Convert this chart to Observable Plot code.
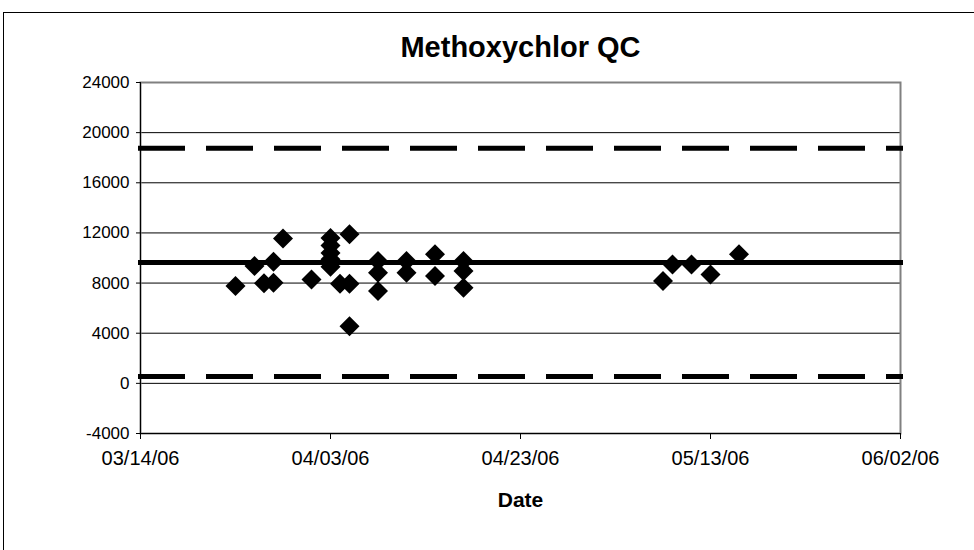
<!DOCTYPE html>
<html>
<head>
<meta charset="utf-8">
<script src="https://cdn.jsdelivr.net/npm/d3@7"></script>
<script src="https://cdn.jsdelivr.net/npm/@observablehq/plot@0.6"></script>
<style>
  html, body { margin: 0; padding: 0; background: #fff; }
  #wrap { position: relative; width: 974px; height: 550px; overflow: hidden; }
  #border { position: absolute; left: 3px; top: 12px; width: 1200px; height: 800px; border: 1px solid #000; box-sizing: border-box; }
  #chart { position: absolute; left: 0; top: 0; }
</style>
</head>
<body>
<div id="wrap"><div id="border"></div><div id="chart"></div></div>
<script>
// ---- data ----
const dates = ["2006-03-24","2006-03-26","2006-03-27","2006-03-28","2006-03-28","2006-03-29",
  "2006-04-01","2006-04-03","2006-04-03","2006-04-03","2006-04-03","2006-04-03","2006-04-04",
  "2006-04-05","2006-04-05","2006-04-05",
  "2006-04-08","2006-04-08","2006-04-08",
  "2006-04-11","2006-04-11",
  "2006-04-14","2006-04-14",
  "2006-04-17","2006-04-17","2006-04-17",
  "2006-05-08","2006-05-09","2006-05-11","2006-05-13","2006-05-16"];
const values = [7760, 9360, 7980, 9700, 8030, 11550,
  8290, 11600, 11000, 10400, 9900, 9300, 7950,
  11900, 7950, 4560,
  9760, 8830, 7360,
  9760, 8830,
  10300, 8560,
  9760, 8960, 7630,
  8160, 9490, 9490, 8690, 10290];
const meanValue = 9650;
const limitValues = [18750, 550];
const xDomain = ["2006-03-14", "2006-06-02"];
const xTickDates = ["2006-03-14","2006-04-03","2006-04-23","2006-05-13","2006-06-02"];
const yTicks = [-4000, 0, 4000, 8000, 12000, 16000, 20000, 24000];
const gridValues = [0, 4000, 8000, 12000, 16000, 20000];
const titleText = "Methoxychlor QC";
const xLabel = "Date";

const parse = d3.utcParse("%Y-%m-%d");
const data = dates.map((d, i) => ({date: parse(d), value: values[i]}));
const dom = xDomain.map(parse);
const lineData = (v) => dom.map(d => ({date: d, value: v}));

const diamond = {
  draw(ctx, size) {
    const h = Math.sqrt(size / Math.PI) * 1.25;
    ctx.moveTo(0, -h); ctx.lineTo(h, 0); ctx.lineTo(0, h); ctx.lineTo(-h, 0); ctx.closePath();
  }
};

const font = "'Liberation Sans', Arial, sans-serif";

const plot = Plot.plot({
  width: 974,
  height: 550,
  marginLeft: 140,
  marginRight: 74,
  marginTop: 82,
  marginBottom: 117,
  style: {fontFamily: font, fontSize: "17px", color: "#000", background: "transparent"},
  x: {type: "utc", domain: dom},
  y: {domain: [-4000, 24000]},
  marks: [
    Plot.ruleY(gridValues, {stroke: "#000", strokeWidth: 1}),
    Plot.frame({stroke: "#808080", strokeWidth: 2}),
    Plot.ruleX([dom[0]], {stroke: "#000", strokeWidth: 1}),
    Plot.ruleY([-4000], {stroke: "#000", strokeWidth: 1}),
    Plot.axisY({ticks: yTicks, tickFormat: d => String(d), tickSize: 4, tickPadding: 7, label: null, fontSize: 17}),
    Plot.axisX({ticks: xTickDates.map(parse), tickFormat: d3.utcFormat("%m/%d/%y"), tickSize: 6, tickPadding: 11, label: null, fontSize: 20}),
    Plot.line(lineData(meanValue), {x: "date", y: "value", stroke: "#000", strokeWidth: 5, strokeLinecap: "square"}),
    ...limitValues.map(v => Plot.line(lineData(v), {x: "date", y: "value", stroke: "#000", strokeWidth: 5, strokeLinecap: "square", strokeDasharray: "42,26"})),
    Plot.dot(data, {x: "date", y: "value", symbol: diamond, r: 8, fill: "#000", stroke: "none"}),
    Plot.text([titleText], {frameAnchor: "top", lineAnchor: "middle", dy: -35, fontSize: 29, fontWeight: "bold", fill: "#000"}),
    Plot.text([xLabel], {frameAnchor: "bottom", lineAnchor: "middle", dy: 67, fontSize: 21, fontWeight: "bold", fill: "#000"})
  ]
});
document.getElementById("chart").appendChild(plot);
</script>
</body>
</html>
